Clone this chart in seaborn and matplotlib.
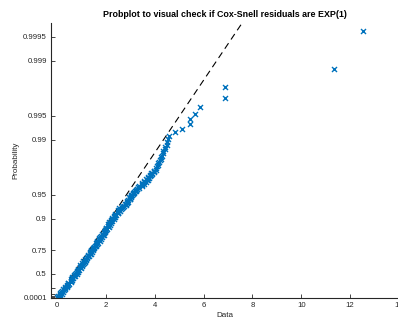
import numpy as np
import matplotlib
matplotlib.use("Agg")
import matplotlib.pyplot as plt
import seaborn as sns

# --- data ---------------------------------------------------------------
# sorted Cox-Snell residuals (x) and their exponential plotting-position
# quantiles (y, in -log(1-p) units)
resid = [
    # dense band, pass 1
    0.05, 0.02, 0.11, 0.19, 0.17, 0.19, 0.32, 0.33, 0.34, 0.43,
    0.48, 0.46, 0.55, 0.63, 0.60, 0.61, 0.75, 0.75, 0.76, 0.85,
    0.89, 0.86, 0.95, 1.03, 1.00, 1.01, 1.14, 1.14, 1.15, 1.24,
    1.29, 1.26, 1.35, 1.43, 1.39, 1.40, 1.53, 1.53, 1.54, 1.62,
    1.67, 1.64, 1.73, 1.80, 1.77, 1.78, 1.91, 1.90, 1.91, 1.99,
    2.04, 2.00, 2.09, 2.16, 2.13, 2.13, 2.26, 2.25, 2.26, 2.36,
    2.41, 2.38, 2.48, 2.56, 2.54, 2.55, 2.71, 2.73, 2.77, 2.88,
    2.92, 2.89, 2.97, 3.04, 3.01, 3.01, 3.15, 3.16, 3.18, 3.29,
    3.36, 3.35, 3.46, 3.56, 3.55, 3.57, 3.71, 3.72, 3.74, 3.83,
    3.89, 3.87, 3.96, 4.03,
    # dense band, pass 2
    0.01, 0.13, 0.11, 0.12, 0.24, 0.28, 0.26, 0.39, 0.39, 0.41,
    0.45, 0.57, 0.55, 0.55, 0.67, 0.70, 0.69, 0.81, 0.81, 0.83,
    0.85, 0.97, 0.95, 0.95, 1.07, 1.10, 1.08, 1.20, 1.20, 1.22,
    1.25, 1.37, 1.35, 1.34, 1.46, 1.49, 1.47, 1.59, 1.59, 1.60,
    1.63, 1.75, 1.73, 1.72, 1.84, 1.87, 1.84, 1.96, 1.95, 1.97,
    1.99, 2.11, 2.08, 2.08, 2.19, 2.22, 2.20, 2.31, 2.31, 2.34,
    2.37, 2.50, 2.48, 2.48, 2.61, 2.65, 2.66, 2.81, 2.83, 2.86,
    2.88, 2.99, 2.97, 2.96, 3.07, 3.11, 3.10, 3.23, 3.24, 3.28,
    3.33, 3.47, 3.47, 3.49, 3.63, 3.67, 3.65, 3.78, 3.79, 3.82,
    3.85, 3.98, 3.97,
    # thinning upper band
    4.03, 4.08, 4.12, 4.14, 4.16, 4.21, 4.25, 4.27, 4.28, 4.33,
    4.35, 4.40, 4.42, 4.48, 4.51, 4.56, 4.60,
    # isolated tail
    4.84, 5.12, 5.46, 5.46, 5.66, 5.86, 6.87, 6.87, 11.32, 12.53,
]
exp_quantile = [
    0.00, 0.04, 0.08, 0.12, 0.16, 0.20, 0.24, 0.28, 0.32, 0.36,
    0.40, 0.44, 0.48, 0.52, 0.56, 0.60, 0.64, 0.68, 0.72, 0.76,
    0.80, 0.84, 0.88, 0.92, 0.96, 1.00, 1.04, 1.08, 1.12, 1.16,
    1.20, 1.24, 1.28, 1.32, 1.36, 1.40, 1.44, 1.48, 1.52, 1.56,
    1.60, 1.64, 1.68, 1.72, 1.76, 1.80, 1.84, 1.88, 1.92, 1.96,
    2.00, 2.04, 2.08, 2.12, 2.16, 2.20, 2.24, 2.28, 2.32, 2.36,
    2.40, 2.44, 2.48, 2.52, 2.56, 2.60, 2.64, 2.68, 2.72, 2.76,
    2.80, 2.84, 2.88, 2.92, 2.96, 3.00, 3.04, 3.08, 3.12, 3.16,
    3.20, 3.24, 3.28, 3.32, 3.36, 3.40, 3.44, 3.48, 3.52, 3.56,
    3.60, 3.64, 3.68, 3.72,
    0.02, 0.06, 0.10, 0.14, 0.18, 0.22, 0.26, 0.30, 0.34, 0.38,
    0.42, 0.46, 0.50, 0.54, 0.58, 0.62, 0.66, 0.70, 0.74, 0.78,
    0.82, 0.86, 0.90, 0.94, 0.98, 1.02, 1.06, 1.10, 1.14, 1.18,
    1.22, 1.26, 1.30, 1.34, 1.38, 1.42, 1.46, 1.50, 1.54, 1.58,
    1.62, 1.66, 1.70, 1.74, 1.78, 1.82, 1.86, 1.90, 1.94, 1.98,
    2.02, 2.06, 2.10, 2.14, 2.18, 2.22, 2.26, 2.30, 2.34, 2.38,
    2.42, 2.46, 2.50, 2.54, 2.58, 2.62, 2.66, 2.70, 2.74, 2.78,
    2.82, 2.86, 2.90, 2.94, 2.98, 3.02, 3.06, 3.10, 3.14, 3.18,
    3.22, 3.26, 3.30, 3.34, 3.38, 3.42, 3.46, 3.50, 3.54, 3.58,
    3.62, 3.66, 3.70,
    3.79, 3.83, 3.87, 3.91, 3.95, 4.00, 4.04, 4.09, 4.14, 4.20,
    4.26, 4.32, 4.39, 4.46, 4.54, 4.625, 4.713,
    4.813, 4.925, 5.05, 5.193, 5.36, 5.561, 5.812, 6.148, 6.659, 7.758,
]
fit_mean = 0.947          # exponential fit used for the reference line

prob_ticks = [0.0001, 0.0005, 0.001, 0.005, 0.01, 0.05, 0.1, 0.25,
              0.5, 0.75, 0.9, 0.95, 0.99, 0.995, 0.999, 0.9995]
prob_labels = ["0.0001", "", "", "", "", "", "", "",
               "0.5", "0.75", "0.9", "0.95", "0.99", "0.995", "0.999", "0.9995"]
x_ticks = [0, 2, 4, 6, 8, 10, 12, 14]

title = "Probplot to visual check if Cox-Snell residuals are EXP(1)"

# --- figure ----------------------------------------------------------------
sns.set_style("white")
plt.rcParams["font.family"] = ["Liberation Sans", "DejaVu Sans"]

fig = plt.figure(figsize=(3.98, 3.20), dpi=100)
ax = fig.add_axes([51 / 398, 1 - 297.7 / 320, 348 / 398, (297.7 - 23) / 320])

blue = "#0072BD"
xlim = (-0.25, 14.0)
ylim = (0.0, 8.0)

line_x = np.array(xlim)
sns.lineplot(x=line_x, y=line_x / fit_mean, ax=ax, color="black",
             linewidth=0.8, linestyle=(0, (6, 4)), zorder=1)

sns.scatterplot(x=resid, y=exp_quantile, ax=ax, marker="x", s=13,
                color=blue, linewidth=1.0, zorder=2)

ax.set_xlim(*xlim)
ax.set_ylim(*ylim)

ytick_pos = [-np.log(1 - p) for p in prob_ticks]
ax.set_yticks(ytick_pos)
ax.set_yticklabels(prob_labels)
ax.set_xticks(x_ticks)
ax.set_xticklabels([str(t) for t in x_ticks])

for side in ["top", "right"]:
    ax.spines[side].set_visible(False)
for side in ["left", "bottom"]:
    ax.spines[side].set_color("#262626")
    ax.spines[side].set_linewidth(0.8)

ax.tick_params(axis="both", direction="in", length=3, width=0.6,
               colors="#262626", labelsize=5.6, pad=3,
               left=True, bottom=True)

ax.set_title(title, fontsize=6.4, fontweight="bold", pad=4, color="black")
ax.set_ylabel("Probability", fontsize=5.8, color="#262626", labelpad=3)
ax.set_xlabel("Data", fontsize=5.8, color="#262626", labelpad=2)

fig.savefig("out.png", dpi=100)
